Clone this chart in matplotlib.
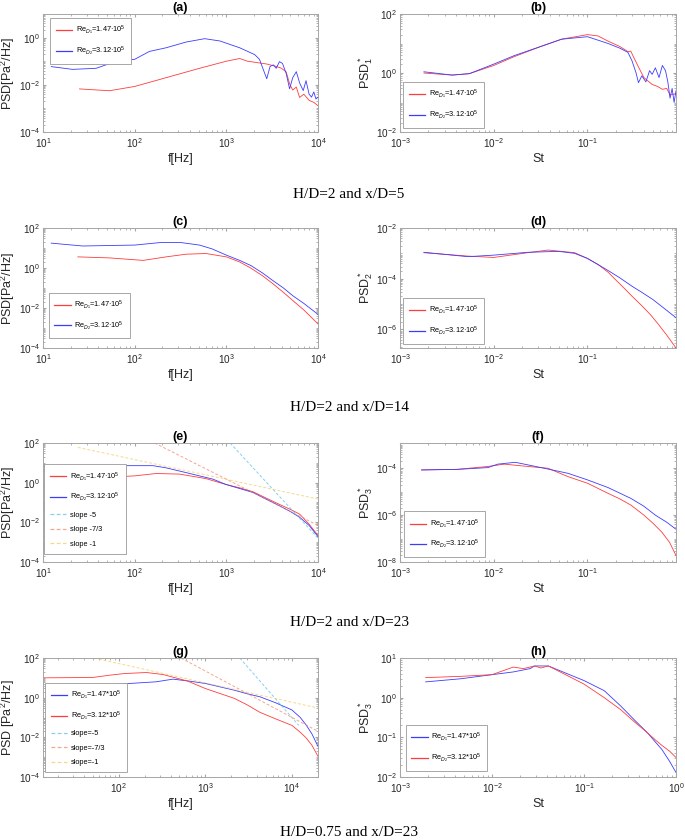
import numpy as np
import matplotlib.pyplot as plt
from matplotlib.ticker import LogLocator, NullFormatter

plt.rcParams['font.family'] = ['Liberation Sans', 'DejaVu Sans']
plt.rcParams['mathtext.fontset'] = 'custom'
plt.rcParams['mathtext.rm'] = 'Liberation Sans'
plt.rcParams['mathtext.it'] = 'Liberation Sans:italic'
plt.rcParams['mathtext.bf'] = 'Liberation Sans:bold'

# ---- (a) H/D=2, x/D=5, dimensional
a_f1 = [25, 53, 100, 220, 510, 1000, 1400, 1700, 2760, 3500, 4000, 4500, 4900,
        5300, 5800, 6300, 7000, 8000, 9000, 10000]
a_p1 = [6.7e-3, 5.6e-3, 8.5e-3, 2e-2, 5e-2, 0.1, 0.13, 0.1, 0.076, 0.06, 0.05,
        0.035, 0.011, 0.006, 0.008, 0.0029, 0.004, 0.0022, 0.0018, 0.0013]
a_f2 = [12.3, 21, 38, 63, 100, 145, 220, 365, 580, 850, 1400, 2040, 2300, 2500,
        2760, 3000, 3260, 3500, 3800, 4100, 4500, 4900, 5300, 5800, 6300, 6900,
        7400, 8000, 8500, 9000, 9500, 10000]
a_p2 = [0.059, 0.045, 0.05, 0.1, 0.12, 0.26, 0.37, 0.65, 0.9, 0.72, 0.37, 0.19,
        0.12, 0.05, 0.018, 0.06, 0.07, 0.05, 0.096, 0.08, 0.03, 0.0067, 0.02,
        0.036, 0.012, 0.0057, 0.015, 0.004, 0.003, 0.005, 0.0025, 0.003]

# ---- (b) normalised
b_st1 = [1.8e-3, 3.6e-3, 5.5e-3, 0.01, 0.0166, 0.032, 0.053, 0.1, 0.13, 0.166,
         0.22, 0.27, 0.29, 0.31, 0.35, 0.4, 0.49, 0.56, 0.63, 0.7, 0.76, 0.88]
b_p1 = [1.0, 0.85, 0.95, 1.8, 3.6, 8, 14, 20, 18, 12, 8, 5.3, 5.5, 3.5, 1.6,
        0.7, 0.41, 0.35, 0.28, 0.3, 0.18, 0.2]
b_st2 = [1.8e-3, 3.6e-3, 5.5e-3, 0.01, 0.0166, 0.032, 0.053, 0.1, 0.166, 0.22,
         0.27, 0.3, 0.33, 0.35, 0.38, 0.42, 0.46, 0.49, 0.53, 0.58, 0.63, 0.68,
         0.72, 0.76, 0.8, 0.84, 0.88]
b_p2 = [1.1, 0.85, 0.95, 2.0, 3.9, 8, 14, 17, 10, 7, 5.0, 2.5, 1.0, 0.47, 0.8,
        0.5, 1.2, 0.9, 1.5, 0.7, 1.8, 1.2, 0.5, 0.14, 0.3, 0.1, 0.25]

# ---- (c) H/D=2, x/D=14
c_f1 = [24, 53, 124, 220, 365, 600, 1000, 1400, 1870, 2500, 3240, 4200, 5350,
        7000, 10000]
c_p1 = [3.6, 3.2, 2.4, 3.6, 4.9, 5.3, 3.6, 2.0, 0.96, 0.4, 0.16, 0.06, 0.023,
        8e-3, 1.6e-3]
c_f2 = [12.3, 27, 100, 190, 320, 510, 700, 1000, 1400, 1870, 2500, 3240, 4200,
        5350, 7000, 10000]
c_p2 = [17.5, 12.6, 14, 18.7, 18.7, 14, 9, 4.4, 2.4, 1.3, 0.55, 0.23, 0.1,
        0.04, 0.017, 4.8e-3]

# ---- (d)
d_st1 = [1.8e-3, 5.3e-3, 0.01, 0.023, 0.038, 0.073, 0.1, 0.13, 0.166, 0.2,
         0.25, 0.3, 0.38, 0.47, 0.57, 0.7, 0.88]
d_p1 = [1.06e-3, 7.8e-4, 6.9e-4, 1.06e-3, 1.35e-3, 1.06e-3, 6.3e-4, 3.6e-4,
        1.8e-4, 9e-5, 4e-5, 2e-5, 8.6e-6, 3.8e-6, 1.6e-6, 6e-7, 1.85e-7]
d_st2 = [1.8e-3, 5.3e-3, 0.01, 0.023, 0.049, 0.073, 0.1, 0.13, 0.166, 0.22,
         0.3, 0.38, 0.5, 0.65, 0.88]
d_p2 = [1.1e-3, 7.4e-4, 8.5e-4, 1.1e-3, 1.2e-3, 1e-3, 6.3e-4, 3.6e-4, 2.1e-4,
        1.1e-4, 5e-5, 2.9e-5, 1.5e-5, 7e-6, 2.9e-6]

# ---- (e) H/D=2, x/D=23
e_f1 = [24, 53, 100, 172, 310, 600, 1000, 1400, 1950, 2700, 3800, 5000, 6300,
        8000, 10000]
e_p1 = [1.8, 1.9, 2.2, 2.9, 2.7, 1.6, 0.8, 0.55, 0.35, 0.17, 0.08, 0.045,
        0.026, 8e-3, 2.2e-3]
e_f2 = [12.3, 27, 58, 81, 158, 220, 365, 715, 1000, 1950, 2700, 3800, 5000,
        6300, 8000, 10000]
e_p2 = [3.8, 3.9, 4.6, 7.2, 7.2, 5.6, 3.2, 1.5, 0.8, 0.32, 0.15, 0.068, 0.035,
        0.018, 7e-3, 1.9e-3]
e_slope5_f = [1100, 10000]
e_slope5_p = [100, 1.6e-3]
e_slope73_f = [165, 10000]
e_slope73_p = [100, 7e-3]
e_slope1_f = [24, 10000]
e_slope1_p = [60, 0.15]

# ---- (f)
f_st1 = [1.7e-3, 4.1e-3, 8.7e-3, 0.013, 0.023, 0.038, 0.062, 0.1, 0.166, 0.22,
         0.29, 0.4, 0.5, 0.62, 0.75, 0.88]
f_p1 = [8.5e-5, 9e-5, 1.2e-4, 1.5e-4, 1.2e-4, 1e-4, 4.4e-5, 2.3e-5, 8.5e-6,
        5e-6, 2.7e-6, 1e-6, 4.5e-7, 1.9e-7, 7e-8, 1.9e-8]
f_st2 = [1.7e-3, 4.1e-3, 8.7e-3, 0.011, 0.017, 0.032, 0.062, 0.1, 0.166, 0.29,
         0.4, 0.53, 0.7, 0.88]
f_p2 = [8.5e-5, 9e-5, 1.07e-4, 1.5e-4, 1.8e-4, 1.07e-4, 6.1e-5, 3.2e-5, 1.5e-5,
        5.2e-6, 2.4e-6, 1e-6, 5e-7, 2.5e-7]

# ---- (g) H/D=0.75, x/D=23
g_f_blue = [26, 100, 270, 425, 660, 1000, 2150, 3000, 4300, 6500, 10000, 12500,
            14700, 17000, 20000]
g_p_blue = [3.5, 4.8, 6.3, 8.6, 6.8, 5.2, 2.4, 1.6, 1.1, 0.55, 0.24, 0.1, 0.04,
            0.015, 3.5e-3]
g_f_red = [13.4, 50, 79, 117, 210, 325, 630, 1000, 2150, 3000, 4300, 6500,
           10000, 12500, 14700, 17000, 20000]
g_p_red = [10, 10.4, 13.6, 16.5, 18.5, 14.7, 6.8, 2.9, 0.93, 0.45, 0.18, 0.085,
           0.04, 0.018, 9e-3, 4e-3, 1.1e-3]
g_slope5_f = [2500, 12000]
g_slope5_p = [100, 0.04]
g_slope73_f = [525, 20000]
g_slope73_p = [100, 0.02]
g_slope1_f = [52, 20000]
g_slope1_p = [100, 0.3]

# ---- (h)
h_st_blue = [1.9e-3, 4.6e-3, 0.01, 0.017, 0.026, 0.029, 0.041, 0.066, 0.1,
             0.166, 0.25, 0.35, 0.49, 0.6, 0.7, 0.85, 1.0]
h_p_blue = [2.5, 3.0, 3.8, 4.45, 5.4, 6.3, 6.3, 4.0, 2.7, 1.5, 0.62, 0.28, 0.13,
            0.075, 0.05, 0.025, 0.013]
h_st_red = [1.9e-3, 4.6e-3, 0.01, 0.017, 0.022, 0.029, 0.034, 0.041, 0.066, 0.1,
            0.166, 0.25, 0.35, 0.49, 0.6, 0.7, 0.85, 1.0]
h_p_red = [3.2, 3.45, 3.8, 5.9, 5.4, 6.3, 5.6, 6.3, 3.6, 2.2, 1.0, 0.5, 0.25,
           0.13, 0.085, 0.063, 0.045, 0.031]

RED = '#ff3c3c'
BLUE = '#3c3cff'
C5 = '#4DBEEE'
C73 = '#F08060'
C1 = '#F5C85A'

lab1 = 'Re$_{D_1}$=1.47·10$^5$'
lab2 = 'Re$_{D_2}$=3.12·10$^5$'

W, H = 685, 840
fig = plt.figure(figsize=(W / 100, H / 100), dpi=100)


def make_ax(left, right, top, bottom):
    return fig.add_axes([left / W, 1 - bottom / H, (right - left) / W,
                         (bottom - top) / H])


def style(ax, title, xlim, ylim, yticks, xlabel, ylabel, ylab_x):
    ax.set_xscale('log')
    ax.set_yscale('log')
    ax.set_xlim(*xlim)
    ax.set_ylim(*ylim)
    ax.set_yticks(yticks)
    ax.xaxis.set_minor_locator(LogLocator(base=10, subs=np.arange(2, 10), numticks=20))
    ax.yaxis.set_minor_locator(LogLocator(base=10, subs=np.arange(1, 10), numticks=30))
    ax.yaxis.set_minor_formatter(NullFormatter())
    ax.xaxis.set_minor_formatter(NullFormatter())
    ax.tick_params(which='both', direction='in', top=True, right=True,
                   labelsize=7.2, colors='0.65', labelcolor='0.15', pad=2)
    ax.tick_params(axis='x', pad=3)
    ax.tick_params(which='major', length=2.5)
    ax.tick_params(which='minor', length=1.5)
    for s in ax.spines.values():
        s.set_color('0.65')
        s.set_linewidth(0.7)
    ax.set_title(title, fontsize=9, fontweight='bold', pad=2)
    ax.set_xlabel(xlabel, fontsize=9, labelpad=2, color='0.15')
    ax.set_ylabel(ylabel, fontsize=9, color='0.15')
    ax.yaxis.set_label_coords(ylab_x, 0.5)


def leg(ax, loc, anchor):
    lg = ax.legend(loc=loc, bbox_to_anchor=anchor, fontsize=5.3, handlelength=2.2,
                   labelspacing=1.0, borderaxespad=0, fancybox=False,
                   framealpha=1, edgecolor='0.6', handletextpad=0.5,
                   borderpad=0.8)
    lg.get_frame().set_linewidth(0.6)
    for ln in lg.get_lines():
        ln.set_linewidth(0.9)
    return lg


def slope(ax, f, p, c, lab):
    ax.plot(f, p, '--', color=c, lw=0.7, dashes=(3, 2), alpha=0.7, label=lab)


LC, RC = (43, 318), (400, 676)
ROWS = [(14, 132), (228, 348), (443, 562), (658, 777)]
fHz_lim = (10, 1e4)
st_lim = (1e-3, 0.88)
psd_lab = 'PSD[Pa$^2$/Hz]'
YL_L = -0.093
YL_R = -0.09

# (a)
ax = make_ax(*LC, *ROWS[0])
ax.plot(a_f1, a_p1, color=RED, lw=0.6, label=lab1)
ax.plot(a_f2, a_p2, color=BLUE, lw=0.6, label=lab2)
style(ax, '(a)', fHz_lim, (1e-4, 1e1), [1e-4, 1e-2, 1e0], 'f[Hz]', psd_lab, YL_L)
leg(ax, 'upper left', (0.025, 0.965))

# (b)
ax = make_ax(*RC, *ROWS[0])
ax.plot(b_st1, b_p1, color=RED, lw=0.6, label=lab1)
ax.plot(b_st2, b_p2, color=BLUE, lw=0.6, label=lab2)
style(ax, '(b)', st_lim, (1e-2, 1e2), [1e-2, 1e0, 1e2], 'St', 'PSD$^*_1$', YL_R)
leg(ax, 'lower left', (0.01, 0.035))

# (c)
ax = make_ax(*LC, *ROWS[1])
ax.plot(c_f1, c_p1, color=RED, lw=0.6, label=lab1)
ax.plot(c_f2, c_p2, color=BLUE, lw=0.6, label=lab2)
style(ax, '(c)', fHz_lim, (1e-4, 1e2), [1e-4, 1e-2, 1e0, 1e2], 'f[Hz]', psd_lab, YL_L)
leg(ax, 'lower left', (0.02, 0.08))

# (d)
ax = make_ax(*RC, *ROWS[1])
ax.plot(d_st1, d_p1, color=RED, lw=0.6, label=lab1)
ax.plot(d_st2, d_p2, color=BLUE, lw=0.6, label=lab2)
style(ax, '(d)', st_lim, (1.85e-7, 1e-2), [1e-6, 1e-4, 1e-2], 'St', 'PSD$^*_2$', YL_R)
leg(ax, 'lower left', (0.01, 0.035))

# (e)
ax = make_ax(*LC, *ROWS[2])
ax.plot(e_f1, e_p1, color=RED, lw=0.6, label=lab1)
ax.plot(e_f2, e_p2, color=BLUE, lw=0.6, label=lab2)
slope(ax, e_slope5_f, e_slope5_p, C5, 'slope -5')
slope(ax, e_slope73_f, e_slope73_p, C73, 'slope -7/3')
slope(ax, e_slope1_f, e_slope1_p, C1, 'slope -1')
style(ax, '(e)', fHz_lim, (1e-4, 1e2), [1e-4, 1e-2, 1e0, 1e2], 'f[Hz]', psd_lab, YL_L)
leg(ax, 'lower left', (0.005, 0.07))

# (f)
ax = make_ax(*RC, *ROWS[2])
ax.plot(f_st1, f_p1, color=RED, lw=0.6, label=lab1)
ax.plot(f_st2, f_p2, color=BLUE, lw=0.6, label=lab2)
style(ax, '(f)', st_lim, (1e-8, 1.2e-3), [1e-8, 1e-6, 1e-4], 'St', 'PSD$^*_3$', YL_R)
leg(ax, 'lower left', (0.015, 0.04))

# (g)
ax = make_ax(*LC, *ROWS[3])
ax.plot(g_f_blue, g_p_blue, color=BLUE, lw=0.6, label='Re$_{D_1}$=1.47*10$^5$')
ax.plot(g_f_red, g_p_red, color=RED, lw=0.6, label='Re$_{D_1}$=3.12*10$^5$')
slope(ax, g_slope5_f, g_slope5_p, C5, 'slope=-5')
slope(ax, g_slope73_f, g_slope73_p, C73, 'slope=-7/3')
slope(ax, g_slope1_f, g_slope1_p, C1, 'slope=-1')
style(ax, '(g)', (13.4, 2e4), (1e-4, 1e2), [1e-4, 1e-2, 1e0, 1e2], 'f[Hz]',
      'PSD [Pa$^2$/Hz]', YL_L)
ax.set_xticks([1e2, 1e3, 1e4])
leg(ax, 'lower left', (0.007, 0.04))

# (h)
ax = make_ax(*RC, *ROWS[3])
ax.plot(h_st_blue, h_p_blue, color=BLUE, lw=0.6, label='Re$_{D_1}$=1.47*10$^5$')
ax.plot(h_st_red, h_p_red, color=RED, lw=0.6, label='Re$_{D_2}$=3.12*10$^5$')
style(ax, '(h)', (1e-3, 1.0), (1e-2, 1e1), [1e-2, 1e-1, 1e0, 1e1], 'St',
      'PSD$^*_3$', YL_R)
leg(ax, 'lower left', (0.02, 0.05))

captions = ['H/D=2 and x/D=5', 'H/D=2 and x/D=14', 'H/D=2 and x/D=23',
            'H/D=0.75 and x/D=23']
for cap, yc in zip(captions, [195, 407, 622, 833]):
    fig.text(349 / W, 1 - yc / H, cap, ha='center', va='center', fontsize=11,
             family='Liberation Serif')

fig.savefig('out.png', dpi=100)
